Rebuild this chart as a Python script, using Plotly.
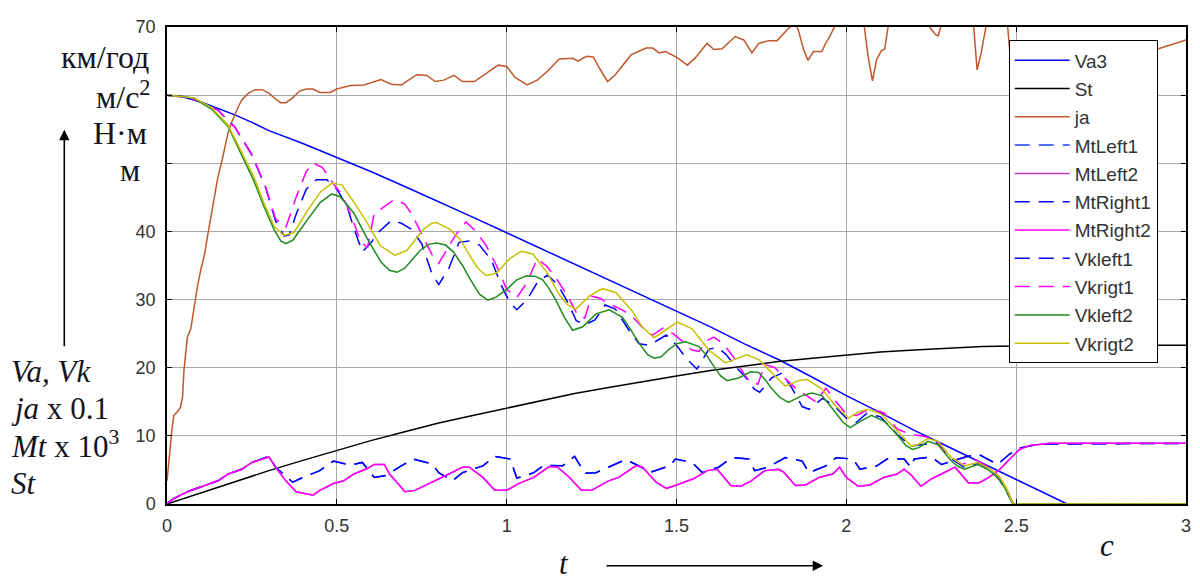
import plotly.graph_objects as go

# ---------------- data ----------------
va3_t = [0, 0.05, 0.1, 0.15, 0.2, 0.25, 0.3, 0.4, 0.5, 0.6, 0.7, 0.8, 0.9, 1.0, 1.1, 1.2, 1.3,
         1.4, 1.5, 1.6, 1.7, 1.8, 1.9, 2.0, 2.1, 2.2, 2.3, 2.4, 2.5, 2.6, 2.65, 3.0]
va3_v = [60, 59.7, 59.0, 58.1, 57.1, 56.0, 54.8, 52.9, 50.9, 48.8, 46.6, 44.4, 42.1, 39.8, 37.5, 35.3, 33.0,
         30.7, 28.3, 26.0, 23.5, 21.2, 18.6, 15.9, 13.4, 10.8, 8.4, 6.0, 3.7, 1.2, 0.0, 0.0]

st_t = [0, 0.1, 0.2, 0.3, 0.4, 0.5, 0.6, 0.7, 0.8, 0.9, 1.0, 1.1, 1.2, 1.3, 1.4, 1.5, 1.6, 1.7,
        1.8, 1.9, 2.0, 2.1, 2.2, 2.3, 2.4, 2.5, 2.6, 2.7, 3.0]
st_v = [0, 1.66, 3.3, 4.9, 6.4, 7.9, 9.3, 10.6, 11.9, 13.0, 14.1, 15.2, 16.2, 17.1, 18.0, 18.8, 19.6, 20.3,
        20.9, 21.4, 21.9, 22.3, 22.6, 22.9, 23.1, 23.2, 23.3, 23.3, 23.3]

ja_t = [0.0, 0.005, 0.015, 0.02, 0.03, 0.04, 0.046, 0.05, 0.055, 0.06, 0.07, 0.08, 0.09, 0.1, 0.11, 0.12,
        0.13, 0.14, 0.15, 0.16, 0.17, 0.18, 0.19, 0.2, 0.21, 0.22, 0.24, 0.26, 0.28, 0.30, 0.32, 0.335,
        0.35, 0.37, 0.39, 0.41, 0.43, 0.45, 0.48, 0.5, 0.54, 0.58, 0.63, 0.66, 0.69, 0.735, 0.765, 0.79,
        0.815, 0.845, 0.87, 0.905, 0.94, 0.975, 1.0, 1.025, 1.06, 1.09, 1.12, 1.155, 1.195, 1.21, 1.235,
        1.255, 1.275, 1.297, 1.32, 1.341, 1.366, 1.41, 1.43, 1.449, 1.468, 1.502, 1.532, 1.556, 1.59,
        1.61, 1.634, 1.673, 1.698, 1.722, 1.742, 1.771, 1.796, 1.83, 1.85, 1.859, 1.874, 1.887, 1.903,
        1.928, 1.937, 1.952, 1.965, 1.99, 2.03, 2.053, 2.064, 2.077, 2.089, 2.103, 2.113, 2.123, 2.15,
        2.2, 2.245, 2.262, 2.27, 2.278, 2.3, 2.35, 2.375, 2.385, 2.397, 2.411, 2.44, 2.475, 2.482, 2.52,
        2.6, 2.7, 2.8, 2.905, 3.0]
ja_v = [3.4, 6.3, 11.1, 13.0, 13.5, 14.2, 15.8, 19.7, 22.6, 24.5, 25.7, 29.0, 32.0, 34.5, 36.5, 39.5,
        42.3, 45.5, 48.0, 50.0, 52.5, 54.5, 56.0, 57.2, 58.3, 59.3, 60.3, 60.8, 60.8, 60.3, 59.4, 58.9,
        58.9, 59.6, 60.6, 60.9, 60.9, 60.4, 60.4, 60.9, 61.4, 61.5, 62.3, 61.6, 61.5, 63.0, 62.9, 62.0,
        62.2, 62.9, 62.0, 62.0, 63.2, 64.4, 64.2, 62.6, 61.5, 62.2, 63.5, 65.3, 65.4, 65.0, 65.7,
        65.6, 63.8, 62.0, 63.0, 64.3, 65.9, 66.9, 66.9, 66.2, 66.4, 65.5, 64.4, 65.5, 67.6,
        66.7, 66.8, 68.6, 68.1, 66.2, 67.6, 68.0, 68.0, 69.8, 70.5, 69.5, 66.7, 65.1, 66.4,
        66.4, 67.4, 68.7, 70.0, 73.0, 73.0, 70.0, 65.7, 62.1, 65.2, 66.5, 66.8, 70.0, 74.0,
        74.0, 70.0, 68.9, 68.7, 70.0, 73.0, 73.0, 70.0, 63.7, 66.2, 70.0, 73.0, 70.0, 66.0, 62.0,
        64.0, 63.0, 65.0, 66.6, 68.1]

mt2_t = [0, 0.02, 0.06, 0.11, 0.15, 0.18, 0.22, 0.25, 0.285, 0.30, 0.32, 0.35, 0.38, 0.41, 0.43, 0.45,
         0.49, 0.52, 0.55, 0.59, 0.61, 0.64, 0.655, 0.685, 0.70, 0.73, 0.79, 0.83, 0.87, 0.89, 0.93,
         0.965, 1.0, 1.035, 1.08, 1.125, 1.15, 1.185, 1.22, 1.25, 1.30, 1.33, 1.38, 1.40, 1.44, 1.47,
         1.49, 1.51, 1.55, 1.59, 1.62, 1.66, 1.69, 1.72, 1.76, 1.80, 1.815, 1.85, 1.88, 1.92, 1.96,
         1.98, 2.0, 2.035, 2.07, 2.11, 2.15, 2.17, 2.19, 2.22, 2.25, 2.28, 2.32, 2.36, 2.39, 2.42,
         2.45, 2.485, 2.51, 2.54, 2.6, 3.0]
mt2_v = [0.1, 0.8, 1.8, 2.7, 3.4, 4.4, 5.1, 6.1, 6.6, 6.9, 5.4, 3.4, 1.8, 1.5, 1.3, 2.0,
         3.0, 3.4, 4.4, 5.2, 5.8, 5.8, 4.4, 2.7, 1.8, 2.0, 3.4, 4.4, 5.4, 5.4, 3.9,
         2.0, 2.0, 3.0, 3.9, 5.5, 5.4, 3.9, 2.0, 2.0, 3.4, 3.9, 5.6, 5.4, 3.2, 2.3,
         2.6, 3.0, 3.7, 4.9, 5.1, 2.7, 2.6, 3.4, 4.9, 5.1, 4.7, 2.7, 2.8, 3.9, 4.4,
         5.4, 3.9, 2.6, 2.8, 3.9, 4.4, 5.1, 4.3, 2.6, 3.7, 4.4, 5.4, 3.1, 3.1, 3.9,
         5.0, 6.8, 8.0, 8.6, 8.9, 8.9]

mt1_t = [0, 0.02, 0.06, 0.11, 0.15, 0.18, 0.22, 0.25, 0.285, 0.30, 0.32, 0.37, 0.40, 0.45, 0.49, 0.54,
         0.575, 0.61, 0.647, 0.686, 0.725, 0.78, 0.80, 0.84, 0.87, 0.93, 0.965, 1.01, 1.03, 1.08,
         1.11, 1.165, 1.2, 1.23, 1.263, 1.31, 1.35, 1.39, 1.42, 1.48, 1.497, 1.546, 1.576, 1.624,
         1.663, 1.713, 1.73, 1.77, 1.82, 1.87, 1.89, 1.94, 1.97, 2.02, 2.04, 2.09, 2.12, 2.17,
         2.19, 2.2, 2.25, 2.28, 2.31, 2.35, 2.39, 2.445, 2.48, 2.51, 2.57, 3.0]
mt1_v = [0.1, 0.8, 1.8, 2.7, 3.4, 4.4, 5.1, 6.1, 6.7, 7.0, 5.4, 3.2, 3.9, 4.9, 6.3, 5.7,
         6.1, 3.9, 4.2, 5.5, 6.6, 5.9, 4.6, 3.4, 4.6, 5.6, 7.0, 6.6, 3.8, 4.6,
         5.7, 5.6, 7.0, 4.5, 4.6, 5.6, 6.5, 5.6, 4.6, 5.6, 6.6, 6.1, 4.6, 5.4,
         6.8, 6.6, 4.9, 5.4, 6.8, 6.3, 4.6, 5.6, 6.8, 6.6, 5.1, 5.6, 6.6, 6.6,
         5.4, 6.6, 6.9, 5.8, 6.3, 6.9, 7.3, 5.8, 7.3, 8.2, 8.8, 8.9]

vkl1_t = [0, 0.05, 0.1, 0.15, 0.2, 0.25, 0.29, 0.32, 0.345, 0.36, 0.38, 0.41, 0.44, 0.47, 0.5, 0.53,
          0.55, 0.575, 0.6, 0.625, 0.66, 0.69, 0.72, 0.75, 0.78, 0.80, 0.83, 0.86, 0.89, 0.92, 0.955,
          0.985, 1.01, 1.03, 1.06, 1.09, 1.12, 1.15, 1.18, 1.205, 1.23, 1.26, 1.29, 1.32, 1.36, 1.39,
          1.42, 1.45, 1.47, 1.5, 1.53, 1.56, 1.595, 1.62, 1.645, 1.675, 1.70, 1.73, 1.745, 1.78, 1.81,
          1.84, 1.87, 1.89, 1.93, 1.96, 2.0, 2.03, 2.06, 2.1, 2.15, 2.19, 2.23, 2.27, 2.31, 2.35, 2.39,
          2.42, 2.45, 2.47, 2.488, 2.495, 3.0]
vkl1_v = [60, 59.8, 59.0, 57.8, 55.3, 51.2, 46.5, 41.5, 39.3, 39.5, 42.5, 46.2, 47.6, 47.6, 46.2, 43.7,
          40.5, 37.0, 38.3, 40.0, 41.6, 41.2, 40.3, 38.2, 33.8, 32.2, 34.6, 38.4, 38.6, 38.0, 35.8,
          32.0, 29.5, 28.5, 30.0, 32.5, 33.6, 32.2, 29.6, 26.9, 26.3, 27.0, 29.2, 28.6, 25.5, 23.5,
          23.3, 24.2, 24.8, 23.3, 21.3, 19.8, 22.7, 23.0, 22.0, 20.1, 18.8, 16.8, 16.4, 18.5, 19.2,
          17.0, 14.3, 13.9, 15.5, 14.6, 12.6, 12.0, 13.3, 12.8, 10.2, 8.5, 8.8, 9.0, 6.6, 5.3, 6.0,
          5.2, 3.6, 2.0, 0.3, 0.0, 0.0]

vkr1_t = [0, 0.05, 0.1, 0.15, 0.2, 0.25, 0.29, 0.32, 0.35, 0.38, 0.41, 0.43, 0.457, 0.49, 0.515, 0.545,
          0.57, 0.59, 0.61, 0.64, 0.67, 0.70, 0.72, 0.75, 0.78, 0.80, 0.825, 0.85, 0.88, 0.91, 0.94,
          0.97, 1.0, 1.03, 1.06, 1.09, 1.12, 1.15, 1.18, 1.21, 1.23, 1.25, 1.275, 1.30, 1.34, 1.37,
          1.40, 1.43, 1.46, 1.49, 1.52, 1.545, 1.566, 1.59, 1.61, 1.64, 1.67, 1.70, 1.72, 1.74, 1.76,
          1.79, 1.82, 1.85, 1.88, 1.91, 1.94, 1.97, 2.0, 2.03, 2.07, 2.11, 2.15, 2.19, 2.22, 2.26,
          2.3, 2.34, 2.38, 2.42, 2.45, 2.475, 2.488, 2.495, 3.0]
vkr1_v = [60, 59.8, 59.0, 57.8, 55.3, 51.3, 46.6, 41.8, 40.6, 45.0, 48.8, 50.0, 49.4, 47.0, 45.4, 42.0,
          38.5, 37.6, 42.6, 43.6, 44.7, 44.0, 42.6, 39.6, 36.6, 35.3, 37.5, 39.5, 41.4, 40.0, 37.9,
          35.0, 31.5, 30.3, 32.5, 36.0, 34.8, 32.8, 30.5, 27.6, 27.3, 30.5, 30.2, 29.4, 28.5, 27.5,
          25.9, 24.8, 25.8, 25.0, 23.8, 22.6, 22.4, 24.0, 24.5, 23.4, 21.4, 19.0, 17.7, 17.6, 20.5,
          20.0, 18.4, 17.0, 16.0, 15.0, 17.0, 15.0, 13.2, 13.0, 14.0, 13.4, 11.0, 10.2, 10.0, 9.6,
          7.2, 5.8, 6.5, 5.4, 4.0, 2.0, 0.3, 0.0, 0.0]

vkl2_t = [0, 0.05, 0.08, 0.13, 0.18, 0.215, 0.255, 0.285, 0.315, 0.335, 0.35, 0.37, 0.39, 0.415, 0.45,
          0.485, 0.51, 0.55, 0.59, 0.63, 0.655, 0.677, 0.70, 0.745, 0.77, 0.794, 0.82, 0.843, 0.87,
          0.891, 0.92, 0.945, 0.97, 1.0, 1.03, 1.058, 1.085, 1.106, 1.125, 1.146, 1.17, 1.194, 1.224,
          1.263, 1.302, 1.341, 1.365, 1.39, 1.415, 1.434, 1.455, 1.478, 1.50, 1.527, 1.566, 1.59, 1.61,
          1.63, 1.649, 1.683, 1.718, 1.742, 1.76, 1.781, 1.805, 1.83, 1.869, 1.898, 1.928, 1.95, 1.967,
          1.99, 2.011, 2.04, 2.074, 2.113, 2.135, 2.152, 2.175, 2.195, 2.215, 2.24, 2.27, 2.29, 2.309,
          2.33, 2.348, 2.37, 2.387, 2.416, 2.446, 2.465, 2.48, 2.49, 3.0]
vkl2_v = [60, 59.8, 59.5, 58.0, 55.4, 51.8, 47.5, 43.7, 40.3, 38.6, 38.2, 38.7, 40.0, 41.8, 44.2,
          45.5, 45.1, 42.7, 38.9, 35.5, 34.3, 34.0, 34.6, 37.2, 38.1, 38.3, 38.0, 37.0, 35.0,
          33.1, 30.8, 29.9, 30.4, 31.5, 32.9, 33.5, 33.4, 32.9, 31.6, 29.8, 27.4, 25.5, 26.0,
          27.9, 28.5, 27.4, 25.6, 23.6, 21.9, 21.4, 21.6, 22.7, 23.5, 23.8, 23.1, 21.7, 20.2,
          18.8, 18.1, 18.5, 19.4, 19.3, 18.3, 16.9, 15.6, 14.9, 15.9, 16.3, 15.9, 14.6, 13.5,
          12.0, 11.2, 12.1, 13.0, 12.1, 11.0, 10.0, 8.6, 8.0, 8.3, 9.2, 8.7, 7.5, 6.3,
          5.5, 5.1, 5.5, 5.8, 5.1, 3.9, 2.5, 1.0, 0.0, 0.0]

vkr2_t = [0, 0.05, 0.08, 0.13, 0.18, 0.215, 0.256, 0.285, 0.315, 0.344, 0.373, 0.413, 0.452, 0.486,
          0.515, 0.549, 0.589, 0.628, 0.671, 0.706, 0.73, 0.755, 0.78, 0.794, 0.833, 0.862, 0.891,
          0.915, 0.94, 0.97, 1.009, 1.043, 1.077, 1.117, 1.155, 1.18, 1.204, 1.243, 1.282, 1.322,
          1.37, 1.399, 1.434, 1.468, 1.502, 1.546, 1.595, 1.644, 1.673, 1.707, 1.742, 1.781, 1.82,
          1.859, 1.884, 1.928, 1.967, 2.006, 2.035, 2.064, 2.103, 2.152, 2.191, 2.21, 2.24, 2.27,
          2.309, 2.348, 2.387, 2.426, 2.455, 2.475, 2.488, 2.495, 3.0]
vkr2_v = [60, 59.8, 59.6, 58.2, 55.6, 52.1, 48.0, 44.2, 40.8, 39.4, 39.8, 43.0, 45.8, 47.1,
          46.8, 44.4, 41.3, 37.9, 36.5, 37.2, 38.8, 40.3, 41.2, 41.3, 40.3, 38.9, 36.5,
          34.6, 33.5, 33.9, 36.0, 37.1, 36.7, 34.1, 30.7, 29.2, 28.6, 30.5, 31.6, 31.0,
          28.3, 26.0, 24.4, 25.6, 26.7, 25.7, 22.6, 20.7, 21.2, 21.9, 21.2, 19.3, 17.3,
          18.1, 18.3, 16.9, 14.5, 12.6, 13.5, 13.9, 13.2, 10.6, 8.5, 8.7, 9.6, 9.2,
          6.8, 5.6, 6.1, 5.1, 3.7, 2.0, 0.3, 0.0, 0.0]

x_ticks = [0, 0.5, 1, 1.5, 2, 2.5, 3]
x_tick_text = ["0", "0.5", "1", "1.5", "2", "2.5", "3"]
y_ticks = [0, 10, 20, 30, 40, 50, 60, 70]
y_tick_text = ["0", "10", "20", "30", "40", "", "", "70"]

# ---------------- figure ----------------
DASH = "15px,9px"
series = [
    ("Va3", va3_t, va3_v, "#0000FF", "solid"),
    ("St", st_t, st_v, "#000000", "solid"),
    ("ja", ja_t, ja_v, "#C0582A", "solid"),
    ("MtLeft1", mt1_t, mt1_v, "#1E3CFF", DASH),
    ("MtLeft2", mt2_t, mt2_v, "#C040C0", "solid"),
    ("MtRight1", mt1_t, mt1_v, "#0000FF", DASH),
    ("MtRight2", mt2_t, mt2_v, "#FF00FF", "solid"),
    ("Vkleft1", vkl1_t, vkl1_v, "#0000FF", DASH),
    ("Vkrigt1", vkr1_t, vkr1_v, "#FF00FF", DASH),
    ("Vkleft2", vkl2_t, vkl2_v, "#1E8C1E", "solid"),
    ("Vkrigt2", vkr2_t, vkr2_v, "#C8C000", "solid"),
]

fig = go.Figure()
for i, (name, t, v, col, dash) in enumerate(series):
    fig.add_trace(go.Scatter(x=t, y=v, mode="lines", name=name, legendgroup=f"g{i}",
                             line=dict(color=col, width=1.5, dash=dash)))

# The page body has an 8px margin, so the figure is 8px smaller than the window
tick_font = dict(family="Liberation Sans, Arial, sans-serif", size=18, color="#333333")
fig.update_layout(
    width=1192, height=572,
    margin=dict(l=159, r=11, t=9, b=76),
    paper_bgcolor="white", plot_bgcolor="white",
    showlegend=True,
    legend=dict(x=0.826, y=0.972, xanchor="left", yanchor="top",
                bgcolor="white", bordercolor="#000000", borderwidth=1,
                font=dict(family="Liberation Sans, Arial, sans-serif", size=19, color="#333333"),
                tracegroupgap=0.6, itemwidth=55),
    xaxis=dict(range=[0, 3], tickvals=x_ticks, ticktext=x_tick_text, showgrid=True,
               gridcolor="#A8A8A8", gridwidth=1, zeroline=False, showline=True,
               linecolor="#000000", linewidth=1.5, mirror="ticks", ticks="inside",
               ticklen=5, tickcolor="#000000", tickfont=tick_font, ticklabelstandoff=5),
    yaxis=dict(range=[0, 70], tickvals=y_ticks, ticktext=y_tick_text, showgrid=True,
               gridcolor="#A8A8A8", gridwidth=1, zeroline=False, showline=True,
               linecolor="#000000", linewidth=1.5, mirror="ticks", ticks="inside",
               ticklen=5, tickcolor="#000000", tickfont=tick_font, ticklabelstandoff=6),
)

serif = "Liberation Serif, Times New Roman, serif"
txtcol = "#141420"
PL, PW, PB, PH = 167, 1022, 504, 487   # plot area in window pixels


def px(xp):
    return (xp - PL) / PW


def py(yp):
    return (PB - yp) / PH


def note(text, x, y, xanchor="center", size=31):
    fig.add_annotation(text=text, x=px(x), y=py(y), xref="paper", yref="paper",
                       xanchor=xanchor, yanchor="middle", showarrow=False,
                       font=dict(family=serif, size=size, color=txtcol))


note("км/год", 105, 48, size=32)
note("м/с<sup>2</sup>", 123, 86, size=32)
note("Н·м", 120, 125, size=32)
note("м", 130, 163, size=32)
note("<i>Va, Vk</i>", 9, 369, xanchor="left")
note("<i>ja</i> x 0.1", 9, 406, xanchor="left")
note("<i>Mt</i> x 10<sup>3</sup>", 9, 443, xanchor="left")
note("<i>St</i>", 9, 483, xanchor="left")
note("<i>t</i>", 565, 565)
note("<i>c</i>", 1110, 546)

# arrows
fig.add_annotation(x=px(64), y=py(122), xref="paper", yref="paper", text="",
                   showarrow=True, arrowhead=2, arrowsize=1.3, arrowwidth=1.6,
                   arrowcolor="#000000", ax=0, ay=218)
fig.add_annotation(x=px(825), y=py(567), xref="paper", yref="paper", text="",
                   showarrow=True, arrowhead=2, arrowsize=1.3, arrowwidth=1.6,
                   arrowcolor="#000000", ax=-218, ay=0)

fig.write_html("out.html")
